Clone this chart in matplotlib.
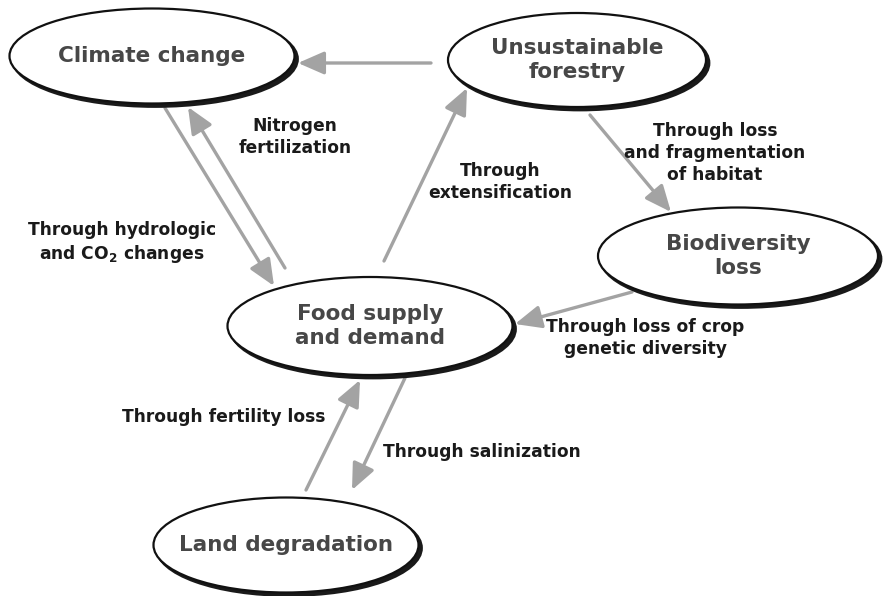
import matplotlib
matplotlib.use("Agg")
import matplotlib.pyplot as plt
from matplotlib.patches import Ellipse, FancyArrowPatch

# ---- data ----
node_names = ["Climate change", "Unsustainable\nforestry", "Biodiversity\nloss",
              "Food supply\nand demand", "Land degradation"]
node_cx = [152, 577, 738, 370, 286]
node_cy = [56, 60, 256, 326, 545]
node_w = [285, 258, 280, 285, 265]
node_h = [95, 94, 97, 98, 95]

# edges: (x0, y0) -> (x1, y1)
edge_x0 = [431, 165, 285, 384, 590, 632, 306, 405]
edge_y0 = [63, 108, 268, 261, 115, 292, 490, 378]
edge_x1 = [298, 274, 188, 467, 671, 515, 360, 352]
edge_y1 = [63, 286, 107, 88, 212, 324, 380, 490]

edge_labels = ["Nitrogen\nfertilization",
               "Through hydrologic\nand CO$_{\\mathregular{2}}$ changes",
               "Through\nextensification",
               "Through loss\nand fragmentation\nof habitat",
               "Through loss of crop\ngenetic diversity",
               "Through fertility loss",
               "Through salinization"]
label_x = [295, 122, 500, 715, 645, 224, 482]
label_y = [137, 243, 182, 153, 338, 417, 452]

W, H = 883, 596
fig = plt.figure(figsize=(W / 100, H / 100), dpi=100)
ax = fig.add_axes([0, 0, 1, 1])
ax.set_xlim(0, W)
ax.set_ylim(H, 0)
ax.axis("off")

arrow_color = "#a3a3a3"
for x0, y0, x1, y1 in zip(edge_x0, edge_y0, edge_x1, edge_y1):
    a = FancyArrowPatch((x0, y0), (x1, y1),
                        arrowstyle="-|>,head_length=1.6,head_width=0.7",
                        mutation_scale=10, lw=2.4, color=arrow_color,
                        shrinkA=0, shrinkB=0, zorder=1)
    ax.add_patch(a)

for name, cx, cy, w, h in zip(node_names, node_cx, node_cy, node_w, node_h):
    shadow = Ellipse((cx + 3, cy + 3), w, h, facecolor="#1a1a1a",
                     edgecolor="#1a1a1a", lw=2.0, zorder=2)
    ax.add_patch(shadow)
    e = Ellipse((cx, cy), w, h, facecolor="white", edgecolor="#111111",
                lw=1.6, zorder=3)
    ax.add_patch(e)
    ax.text(cx, cy, name, ha="center", va="center", fontsize=15.5,
            fontweight="bold", color="#474747", linespacing=1.2, zorder=4,
            family="DejaVu Sans")

for t, x, y in zip(edge_labels, label_x, label_y):
    ax.text(x, y, t, ha="center", va="center", fontsize=12.3,
            fontweight="bold", color="#1a1a1a", linespacing=1.3, zorder=4,
            family="DejaVu Sans")

fig.savefig("out.png", dpi=100, facecolor="white")
